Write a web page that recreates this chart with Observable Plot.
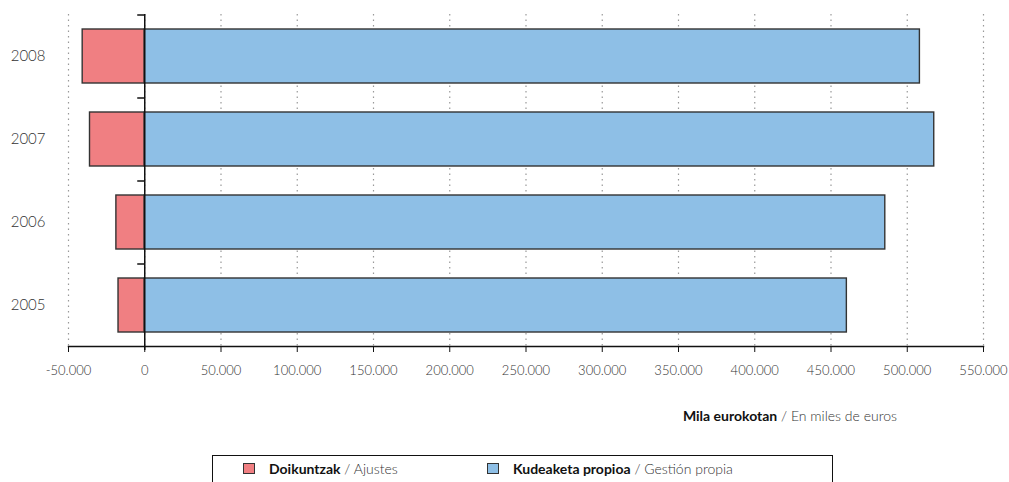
<!DOCTYPE html>
<html>
<head>
<meta charset="utf-8">
<script src="https://cdn.jsdelivr.net/npm/d3@7"></script>
<script src="https://cdn.jsdelivr.net/npm/@observablehq/plot@0.6"></script>
<style>
  body { margin: 0; background: #fff; font-family: "Lato", "Open Sans", sans-serif; font-weight: 300; }
  #wrap { position: relative; width: 1009px; height: 482px; overflow: hidden; }
  #caption { position: absolute; top: 407px; right: 112px; font-size: 14px; color: #333; white-space: nowrap; font-weight: 300; }
  #caption b { color: #111; font-weight: 700; }
  #legend { position: absolute; top: 455px; left: 212px; width: 621px; height: 40px; border: 1.5px solid #111; box-sizing: border-box; font-size: 14px; color: #333; font-weight: 300; }
  .item { position: absolute; top: 4px; display: flex; align-items: center; white-space: nowrap; }
  .item b { color: #111; font-weight: 700; }
  .sw { width: 12px; height: 11px; border: 1.2px solid #333; margin-right: 14px; box-sizing: border-box; }
  svg text { font-family: "Lato", "Open Sans", sans-serif; font-weight: 300; }
</style>
</head>
<body>
<div id="wrap">
  <div id="chart"></div>
  <div id="caption"><b>Mila eurokotan</b> / En miles de euros</div>
  <div id="legend"></div>
</div>
<script>
const years = ["2008", "2007", "2006", "2005"];
const adjustments = [-40700, -35900, -18600, -17200];
const ownManagement = [508300, 517700, 485600, 460400];
const seriesNames = [
  {eu: "Doikuntzak", es: "Ajustes", color: "#F07F82"},
  {eu: "Kudeaketa propioa", es: "Gestión propia", color: "#8EBFE6"}
];
const xTicks = d3.range(-50000, 550001, 50000);

const rows = [];
years.forEach((y, i) => {
  rows.push({year: y, series: seriesNames[0].eu, x1: adjustments[i], x2: 0});
  rows.push({year: y, series: seriesNames[1].eu, x1: 0, x2: ownManagement[i]});
});
const fmt = d => d === 0 ? "0" : d3.format(",")(d).replace(/,/g, ".").replace("−", "-");

const W = 1009, H = 390, mt = 14, mb = 44;
const step = (H - mt - mb) / years.length;

const chart = Plot.plot({
  width: W,
  height: H,
  marginLeft: 68,
  marginRight: 26,
  marginTop: mt,
  marginBottom: mb,
  style: {fontSize: "13px", color: "#333", background: "white"},
  x: {domain: [-50000, 550000], ticks: xTicks, tickFormat: fmt},
  y: {domain: years, paddingInner: 0.35, paddingOuter: 0.175},
  color: {domain: seriesNames.map(s => s.eu), range: seriesNames.map(s => s.color)},
  marks: [
    Plot.gridX(xTicks, {stroke: "#999", strokeOpacity: 1, strokeDasharray: "1.5,4", strokeWidth: 1.2}),
    Plot.barX(rows, {y: "year", x1: "x1", x2: "x2", fill: "series", stroke: "#333", strokeWidth: 1.4}),
    Plot.ruleY(years, {y: d => d, x1: -4600, x2: 0, dy: -step / 2, stroke: "#111", strokeWidth: 1.5}),
    Plot.ruleX([0], {stroke: "#111", strokeWidth: 1.5, insetBottom: -4}),
    Plot.frame({anchor: "bottom", stroke: "#111", strokeWidth: 1.5}),
    Plot.axisX({ticks: xTicks, tickFormat: fmt, tickSize: 6, tickPadding: 13, label: null, fontSize: 13, stroke: "#111"}),
    Plot.axisY({tickSize: 0, tickPadding: 23, label: null, fontSize: 15})
  ]
});
document.getElementById("chart").appendChild(chart);

const legend = document.getElementById("legend");
const lefts = [30, 274];
seriesNames.forEach((s, i) => {
  const it = document.createElement("div");
  it.className = "item";
  it.style.left = lefts[i] + "px";
  it.innerHTML = `<span class="sw" style="background:${s.color}"></span><b>${s.eu}</b>&nbsp;/ ${s.es}`;
  legend.appendChild(it);
});
</script>
</body>
</html>
